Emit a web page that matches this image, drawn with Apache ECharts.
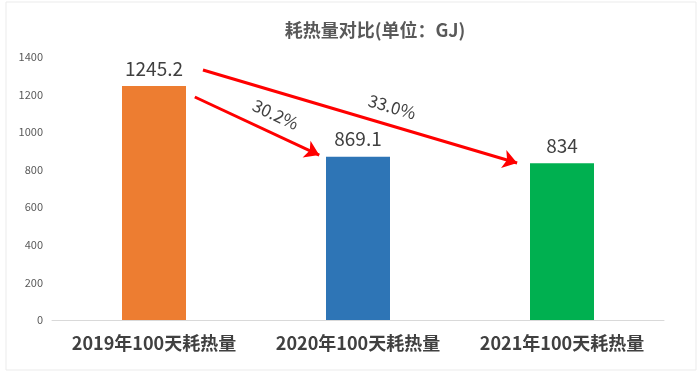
<!DOCTYPE html>
<html><head><meta charset="utf-8">
<script src="https://cdn.jsdelivr.net/npm/echarts@6/dist/echarts.min.js"></script>
<style>html,body{margin:0;padding:0;background:#fff}#c{width:700px;height:373px}</style>
</head><body><div id="c"></div>
<script>
const title = '耗热量对比(单位：GJ)';
const categories = ['2019年100天耗热量', '2020年100天耗热量', '2021年100天耗热量'];
const values = [1245.2, 869.1, 834];
const barColors = ['#ED7D31', '#2E75B6', '#00B050'];
const yTicks = [0, 200, 400, 600, 800, 1000, 1200, 1400];
// arrows: start and end points in (category position, value)
const arrowFrom = [[0.20, 1187], [0.24, 1331]];
const arrowTo = [[0.81, 878], [1.78, 836]];
const arrowLabels = ['30.2%', '33.0%'];

const FONT = '"Noto Sans CJK SC", "Noto Sans", sans-serif';
const labelPads = [[0, 0, 0, 24], [0, 0, 0, 56]];
const labelDist = [10, 10];
const chart = echarts.init(document.getElementById('c'));
chart.setOption({
  animation: false,
  title: {
    text: title, left: 370, top: 16, textAlign: 'center',
    textStyle: {fontFamily: FONT, fontSize: 18, fontWeight: 'bold', color: '#595959'}
  },
  grid: {left: 52, right: 36, top: 57, bottom: 53},
  xAxis: [{
    type: 'category', data: categories,
    axisLine: {lineStyle: {color: '#D9D9D9', width: 1}},
    axisTick: {show: false},
    axisLabel: {interval: 0, fontFamily: FONT, fontSize: 18, fontWeight: 'bold', color: '#404040', margin: 14}
  }, {
    type: 'value', min: -0.5, max: 2.5, show: false
  }],
  yAxis: {
    type: 'value', min: yTicks[0], max: yTicks[yTicks.length - 1], interval: 200,
    splitLine: {show: false}, axisLine: {show: false}, axisTick: {show: false},
    axisLabel: {fontFamily: FONT, fontSize: 11, color: '#595959', margin: 9, formatter: v => String(v)}
  },
  series: [{
    type: 'bar', barWidth: 64, xAxisIndex: 0,
    data: values.map((v, i) => ({value: v, itemStyle: {color: barColors[i]}})),
    label: {show: true, position: 'top', distance: 8, fontFamily: FONT, fontSize: 19, color: '#404040',
      formatter: p => String(p.value)}
  }, {
    type: 'line', xAxisIndex: 1, data: [], silent: true,
    markLine: {
      silent: true, symbol: ['none', 'arrow'], symbolSize: [14, 14],
      lineStyle: {color: '#FF0000', width: 3, type: 'solid'},
      label: {show: true, position: 'insideMiddleTop', fontFamily: FONT, fontSize: 17, color: '#404040'},
      data: arrowFrom.map((s, i) => [
        {coord: s, label: {formatter: arrowLabels[i], padding: labelPads[i], distance: labelDist[i]}},
        {coord: arrowTo[i]}
      ])
    }
  }],
  graphic: [{
    type: 'rect', shape: {x: 6, y: 2, width: 690, height: 368},
    style: {fill: 'none', stroke: '#EBEBEB', lineWidth: 1}, silent: true, z: -1
  }]
});
</script></body></html>
